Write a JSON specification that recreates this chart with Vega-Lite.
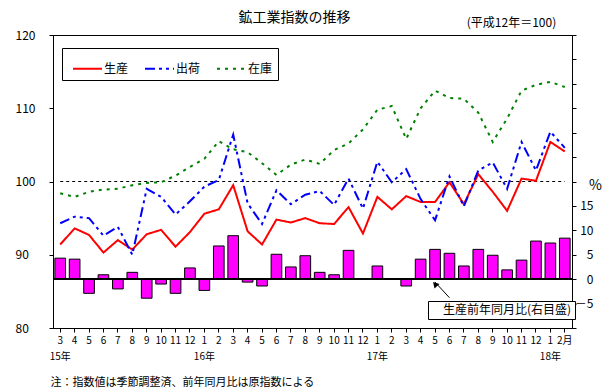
{
"$schema":"https://vega.github.io/schema/vega-lite/v6.json",
"width":519,"height":293,
"autosize":{"type":"none"},
"padding":{"left":53,"top":35,"right":37,"bottom":64},
"background":"white",
"title":{"text":"鉱工業指数の推移","dx":-18,"offset":-9,"fontSize":14,"fontWeight":"normal","color":"black"},
"config":{"font":"Noto Sans CJK JP","view":{"stroke":"black","strokeWidth":1},
 "axis":{"grid":false,"domainColor":"black","tickColor":"black","labelColor":"black","titleColor":"black","titleFontWeight":"normal"},
 "legend":{"labelColor":"black"}},
"datasets":{
 "yoy":[
  {"ym":"15-03","r":4.3},{"ym":"15-04","r":4.1},{"ym":"15-05","r":-2.9},{"ym":"15-06","r":0.9},{"ym":"15-07","r":-2.0},{"ym":"15-08","r":1.4},
  {"ym":"15-09","r":-3.9},{"ym":"15-10","r":-1.0},{"ym":"15-11","r":-2.9},{"ym":"15-12","r":2.3},{"ym":"16-01","r":-2.3},{"ym":"16-02","r":6.8},
  {"ym":"16-03","r":8.9},{"ym":"16-04","r":-0.6},{"ym":"16-05","r":-1.4},{"ym":"16-06","r":5.1},{"ym":"16-07","r":2.5},{"ym":"16-08","r":4.8},
  {"ym":"16-09","r":1.4},{"ym":"16-10","r":0.9},{"ym":"16-11","r":5.9},{"ym":"16-12","r":0},{"ym":"17-01","r":2.7},{"ym":"17-02","r":0},
  {"ym":"17-03","r":-1.4},{"ym":"17-04","r":4.1},{"ym":"17-05","r":6.1},{"ym":"17-06","r":5.3},{"ym":"17-07","r":2.7},{"ym":"17-08","r":6.1},
  {"ym":"17-09","r":4.9},{"ym":"17-10","r":1.9},{"ym":"17-11","r":3.9},{"ym":"17-12","r":7.8},{"ym":"18-01","r":7.4},{"ym":"18-02","r":8.4}
 ],
 "arrow":[{"ym":"17-06","r":-3.8},{"ym":"17-05","r":-0.6}],
 "arrowhead":[{"ym":"17-05","r":-1.0}],
 "ref":[{"ym":"15-03","v":100},{"ym":"18-02","v":100}],
 "idx":[
  {"ym":"15-03","s":"生産","v":91.4},{"ym":"15-04","s":"生産","v":93.6},{"ym":"15-05","s":"生産","v":92.7},{"ym":"15-06","s":"生産","v":90.3},
  {"ym":"15-07","s":"生産","v":92.0},{"ym":"15-08","s":"生産","v":90.7},{"ym":"15-09","s":"生産","v":92.8},{"ym":"15-10","s":"生産","v":93.4},
  {"ym":"15-11","s":"生産","v":91.1},{"ym":"15-12","s":"生産","v":93.1},{"ym":"16-01","s":"生産","v":95.6},{"ym":"16-02","s":"生産","v":96.2},
  {"ym":"16-03","s":"生産","v":99.5},{"ym":"16-04","s":"生産","v":93.2},{"ym":"16-05","s":"生産","v":91.4},{"ym":"16-06","s":"生産","v":94.8},
  {"ym":"16-07","s":"生産","v":94.4},{"ym":"16-08","s":"生産","v":95.0},{"ym":"16-09","s":"生産","v":94.3},{"ym":"16-10","s":"生産","v":94.2},
  {"ym":"16-11","s":"生産","v":96.5},{"ym":"16-12","s":"生産","v":92.9},{"ym":"17-01","s":"生産","v":97.9},{"ym":"17-02","s":"生産","v":96.2},
  {"ym":"17-03","s":"生産","v":98.0},{"ym":"17-04","s":"生産","v":97.2},{"ym":"17-05","s":"生産","v":97.2},{"ym":"17-06","s":"生産","v":99.9},
  {"ym":"17-07","s":"生産","v":96.9},{"ym":"17-08","s":"生産","v":101.0},{"ym":"17-09","s":"生産","v":98.6},{"ym":"17-10","s":"生産","v":96.0},
  {"ym":"17-11","s":"生産","v":100.4},{"ym":"17-12","s":"生産","v":100.1},{"ym":"18-01","s":"生産","v":105.4},{"ym":"18-02","s":"生産","v":104.1},
  {"ym":"15-03","s":"出荷","v":94.3},{"ym":"15-04","s":"出荷","v":95.2},{"ym":"15-05","s":"出荷","v":95.0},{"ym":"15-06","s":"出荷","v":92.6},
  {"ym":"15-07","s":"出荷","v":93.8},{"ym":"15-08","s":"出荷","v":90.0},{"ym":"15-09","s":"出荷","v":99.0},{"ym":"15-10","s":"出荷","v":97.9},
  {"ym":"15-11","s":"出荷","v":95.5},{"ym":"15-12","s":"出荷","v":97.3},{"ym":"16-01","s":"出荷","v":99.3},{"ym":"16-02","s":"出荷","v":100.2},
  {"ym":"16-03","s":"出荷","v":106.4},{"ym":"16-04","s":"出荷","v":97.0},{"ym":"16-05","s":"出荷","v":94.2},{"ym":"16-06","s":"出荷","v":98.8},
  {"ym":"16-07","s":"出荷","v":96.9},{"ym":"16-08","s":"出荷","v":98.2},{"ym":"16-09","s":"出荷","v":98.7},{"ym":"16-10","s":"出荷","v":96.8},
  {"ym":"16-11","s":"出荷","v":100.4},{"ym":"16-12","s":"出荷","v":96.3},{"ym":"17-01","s":"出荷","v":102.7},{"ym":"17-02","s":"出荷","v":99.9},
  {"ym":"17-03","s":"出荷","v":101.7},{"ym":"17-04","s":"出荷","v":97.6},{"ym":"17-05","s":"出荷","v":94.7},{"ym":"17-06","s":"出荷","v":100.7},
  {"ym":"17-07","s":"出荷","v":96.6},{"ym":"17-08","s":"出荷","v":101.5},{"ym":"17-09","s":"出荷","v":102.6},{"ym":"17-10","s":"出荷","v":99.0},
  {"ym":"17-11","s":"出荷","v":105.4},{"ym":"17-12","s":"出荷","v":101.5},{"ym":"18-01","s":"出荷","v":106.8},{"ym":"18-02","s":"出荷","v":104.6},
  {"ym":"15-03","s":"在庫","v":98.4},{"ym":"15-04","s":"在庫","v":97.9},{"ym":"15-05","s":"在庫","v":98.6},{"ym":"15-06","s":"在庫","v":98.9},
  {"ym":"15-07","s":"在庫","v":99.0},{"ym":"15-08","s":"在庫","v":99.5},{"ym":"15-09","s":"在庫","v":99.8},{"ym":"15-10","s":"在庫","v":99.9},
  {"ym":"15-11","s":"在庫","v":100.8},{"ym":"15-12","s":"在庫","v":102.0},{"ym":"16-01","s":"在庫","v":103.1},{"ym":"16-02","s":"在庫","v":105.5},
  {"ym":"16-03","s":"在庫","v":104.4},{"ym":"16-04","s":"在庫","v":104.0},{"ym":"16-05","s":"在庫","v":102.5},{"ym":"16-06","s":"在庫","v":100.9},
  {"ym":"16-07","s":"在庫","v":102.3},{"ym":"16-08","s":"在庫","v":103.0},{"ym":"16-09","s":"在庫","v":102.4},{"ym":"16-10","s":"在庫","v":104.3},
  {"ym":"16-11","s":"在庫","v":105.2},{"ym":"16-12","s":"在庫","v":107.1},{"ym":"17-01","s":"在庫","v":109.8},{"ym":"17-02","s":"在庫","v":110.3},
  {"ym":"17-03","s":"在庫","v":105.8},{"ym":"17-04","s":"在庫","v":110.0},{"ym":"17-05","s":"在庫","v":112.4},{"ym":"17-06","s":"在庫","v":111.4},
  {"ym":"17-07","s":"在庫","v":111.3},{"ym":"17-08","s":"在庫","v":109.4},{"ym":"17-09","s":"在庫","v":105.4},{"ym":"17-10","s":"在庫","v":108.6},
  {"ym":"17-11","s":"在庫","v":112.4},{"ym":"17-12","s":"在庫","v":113.2},{"ym":"18-01","s":"在庫","v":113.6},{"ym":"18-02","s":"在庫","v":112.9}
 ]
},
"layer":[
 {"layer":[
   {"data":{"name":"yoy"},
    "mark":{"type":"bar","stroke":"black","strokeWidth":1},
    "encoding":{
     "x":{"field":"ym","type":"ordinal","scale":{"type":"band","paddingInner":0.26,"paddingOuter":0.13},
          "axis":{"orient":"bottom","tickSize":4,"labelPadding":3,"labelFontSize":10,"labelAngle":0,"labelOverlap":false,"labelLineHeight":16,
                  "labelExpr":"datum.value=='18-02' ? '　2月' : (datum.value=='15-03' ? ['3', '15年'] : (slice(datum.value,3)=='01' ? ['1', slice(datum.value,0,2)+'年'] : toString(toNumber(slice(datum.value,3)))))",
                  "title":"注：指数値は季節調整済、前年同月比は原指数による","titleX":-3,"titleY":54,"titleAlign":"left","titleBaseline":"middle","titleFontSize":11}},
     "y":{"field":"r","type":"quantitative","scale":{"domain":[-10,50],"nice":false,"zero":false},
          "axis":{"orient":"right","values":[-10,-5,0,5,10,15,20,25,30,35,40,45,50],"tickSize":4,"labelAlign":"right","labelPadding":17,"labelFontSize":12,"labelBaseline":"middle","labelOverlap":false,
                  "labelExpr":"datum.value < -5 || datum.value > 15 ? '' : (datum.value < 0 ? '－5' : datum.label)",
                  "title":"%","titleAngle":0,"titleX":23,"titleY":150,"titleAlign":"center","titleBaseline":"middle","titleFontSize":14}},
     "fill":{"datum":"生産前年同月比(右目盛)","type":"nominal","scale":{"range":["#FF00FF"]},
             "legend":{"title":null,"orient":"none","legendX":375,"legendY":266,"strokeColor":"black","fillColor":"white","padding":3,"symbolSize":1,"symbolOpacity":0,"symbolStrokeWidth":0,"labelOffset":0,"labelFontSize":12}}
    }},
   {"data":{"name":"yoy"},"mark":{"type":"rule","color":"black","strokeWidth":1},
    "encoding":{"y":{"datum":0,"type":"quantitative",
          "axis":{"orient":"right","values":[-10,-5,0,5,10,15,20,25,30,35,40,45,50],"tickSize":4,"labelAlign":"right","labelPadding":17,"labelFontSize":12,"labelBaseline":"middle","labelOverlap":false,
                  "labelExpr":"datum.value < -5 || datum.value > 15 ? '' : (datum.value < 0 ? '－5' : datum.label)",
                  "title":"%","titleAngle":0,"titleX":23,"titleY":150,"titleAlign":"center","titleBaseline":"middle","titleFontSize":14}}}},
   {"data":{"name":"arrow"},"mark":{"type":"line","color":"black","strokeWidth":1},
    "encoding":{"x":{"field":"ym","type":"ordinal"},"y":{"field":"r","type":"quantitative",
          "axis":{"orient":"right","values":[-10,-5,0,5,10,15,20,25,30,35,40,45,50],"tickSize":4,"labelAlign":"right","labelPadding":17,"labelFontSize":12,"labelBaseline":"middle","labelOverlap":false,
                  "labelExpr":"datum.value < -5 || datum.value > 15 ? '' : (datum.value < 0 ? '－5' : datum.label)",
                  "title":"%","titleAngle":0,"titleX":23,"titleY":150,"titleAlign":"center","titleBaseline":"middle","titleFontSize":14}}}},
   {"data":{"name":"arrowhead"},"mark":{"type":"point","shape":"triangle-up","filled":true,"color":"black","opacity":1,"size":45,"angle":318},
    "encoding":{"x":{"field":"ym","type":"ordinal"},"y":{"field":"r","type":"quantitative",
          "axis":{"orient":"right","values":[-10,-5,0,5,10,15,20,25,30,35,40,45,50],"tickSize":4,"labelAlign":"right","labelPadding":17,"labelFontSize":12,"labelBaseline":"middle","labelOverlap":false,
                  "labelExpr":"datum.value < -5 || datum.value > 15 ? '' : (datum.value < 0 ? '－5' : datum.label)",
                  "title":"%","titleAngle":0,"titleX":23,"titleY":150,"titleAlign":"center","titleBaseline":"middle","titleFontSize":14}}}}
 ]},
 {"layer":[
   {"data":{"name":"ref"},"mark":{"type":"line","color":"black","strokeWidth":1,"strokeDash":[3,3]},
    "encoding":{
     "x":{"field":"ym","type":"ordinal"},
     "y":{"field":"v","type":"quantitative","scale":{"domain":[80,120],"nice":false,"zero":false}}}},
   {"data":{"name":"idx"},"mark":{"type":"line","strokeWidth":2},
    "encoding":{
     "x":{"field":"ym","type":"ordinal"},
     "y":{"field":"v","type":"quantitative","scale":{"domain":[80,120],"nice":false,"zero":false},
          "axis":{"orient":"left","values":[80,90,100,110,120],"tickSize":4,"labelAlign":"left","labelPadding":34,"labelFontSize":12,"labelBaseline":"middle",
                  "title":"(平成12年＝100)","titleAngle":0,"titleX":458,"titleY":-13,"titleAlign":"center","titleBaseline":"middle","titleFontSize":12}},
     "color":{"field":"s","type":"nominal","scale":{"domain":["生産","出荷","在庫"],"range":["#FF0000","#0000FF","#008000"]},
              "legend":{"title":null,"orient":"none","legendX":9,"legendY":13,"direction":"horizontal","strokeColor":"black","fillColor":"white","padding":5,"symbolType":"stroke","symbolSize":841,"symbolStrokeWidth":2,"symbolOffset":5,"labelFontSize":12,"labelOffset":1,"columnPadding":10}},
     "strokeDash":{"field":"s","type":"nominal","scale":{"domain":["生産","出荷","在庫"],"range":[[1,0],[10,4,3,4,3,4],[3,5]]},
              "legend":{"title":null,"orient":"none","legendX":9,"legendY":13,"direction":"horizontal","strokeColor":"black","fillColor":"white","padding":5,"symbolType":"stroke","symbolSize":841,"symbolStrokeWidth":2,"symbolOffset":5,"labelFontSize":12,"labelOffset":1,"columnPadding":10}}
    }}
 ]}
],
"resolve":{"scale":{"y":"independent"}}
}
